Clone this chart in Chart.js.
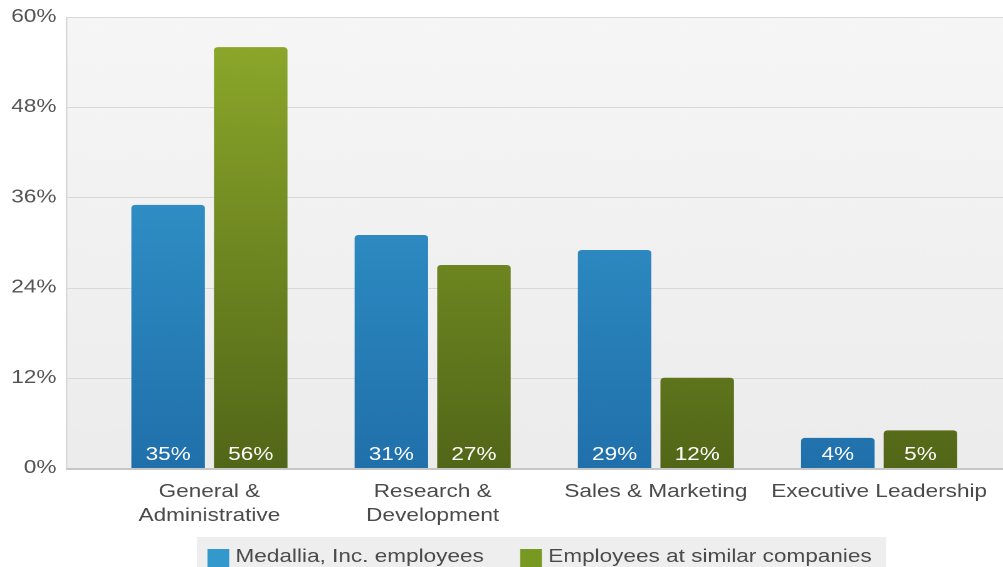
<!DOCTYPE html>
<html>
<head>
<meta charset="utf-8">
<script src="https://cdn.jsdelivr.net/npm/chart.js@4"></script>
<style>
  html, body { margin:0; padding:0; background:#fff; overflow:hidden; }
  /* the reference is a horizontally stretched screenshot: draw at 800 wide, stretch to 1003 */
  #wrap { width:800px; height:567px; position:relative; transform:scaleX(1.25375); transform-origin:0 0; }
</style>
</head>
<body>
<div id="wrap"><canvas id="chart"></canvas></div>
<script>
const categories = [["General &", "Administrative"], ["Research &", "Development"], "Sales & Marketing", "Executive Leadership"];
const medallia = [35, 31, 29, 4];
const similar  = [56, 27, 12, 5];
const seriesNames = ["Medallia, Inc. employees", "Employees at similar companies"];
const legendColors = ["#3399cc", "#779922"];

const font = "'Liberation Sans', Arial, sans-serif";
const plotLeft = 52.6;

// area gradient so bars share the same shade at a given height
function grad(top, bottom, fallback) {
  return c => {
    const area = c.chart.chartArea;
    if (!area) return fallback;
    const g = c.chart.ctx.createLinearGradient(0, area.top, 0, area.bottom);
    g.addColorStop(0, top);
    g.addColorStop(1, bottom);
    return g;
  };
}

const backdrop = {
  id: "backdrop",
  beforeDraw(chart) {
    const { ctx, scales: { y }, chartArea } = chart;
    const right = chart.width;
    ctx.save();
    const g = ctx.createLinearGradient(0, chartArea.top, 0, chartArea.bottom);
    g.addColorStop(0, "#f6f6f6");
    g.addColorStop(1, "#ececec");
    ctx.fillStyle = g;
    ctx.fillRect(plotLeft, chartArea.top, right - plotLeft, chartArea.bottom - chartArea.top);
    ctx.strokeStyle = "#d8d8d8";
    ctx.lineWidth = 1;
    y.ticks.forEach(t => {
      const py = Math.round(y.getPixelForValue(t.value)) + 0.5;
      ctx.beginPath(); ctx.moveTo(plotLeft, py); ctx.lineTo(right, py); ctx.stroke();
    });
    ctx.lineWidth = 1.3;
    ctx.beginPath(); ctx.moveTo(plotLeft + 0.5, chartArea.top); ctx.lineTo(plotLeft + 0.5, chartArea.bottom); ctx.stroke();
    ctx.restore();
  },
  afterDatasetsDraw(chart) {
    const { ctx, scales: { y } } = chart;
    ctx.save();
    const base = y.getPixelForValue(0);
    ctx.strokeStyle = "#c6c6c6";
    ctx.lineWidth = 2;
    ctx.beginPath(); ctx.moveTo(plotLeft, base + 1); ctx.lineTo(chart.width, base + 1); ctx.stroke();
    // value labels at the foot of each bar
    ctx.fillStyle = "#ffffff";
    ctx.font = "18px " + font;
    ctx.textAlign = "center";
    ctx.textBaseline = "alphabetic";
    chart.data.datasets.forEach((ds, i) => {
      chart.getDatasetMeta(i).data.forEach((bar, j) => {
        ctx.fillText(ds.data[j] + "%", bar.x, base - 8);
      });
    });
    ctx.restore();
  },
  afterDraw(chart) {
    // legend strip at the bottom
    const { ctx } = chart;
    ctx.save();
    const bgLeft = 157.1, bgRight = 706.7, bgTop = 537;
    ctx.fillStyle = "#eeeeee";
    ctx.fillRect(bgLeft, bgTop, bgRight - bgLeft, chart.height - bgTop);
    ctx.font = "18px " + font;
    const boxW = 17.3, gap = 5, itemGap = 29;
    const widths = seriesNames.map(n => ctx.measureText(n).width);
    const total = widths.reduce((a, w) => a + boxW + gap + w, 0) + itemGap;
    let x = (bgLeft + bgRight) / 2 - total / 2 - 1.5;
    seriesNames.forEach((n, i) => {
      ctx.fillStyle = legendColors[i];
      ctx.fillRect(x, 549, boxW, 18);
      ctx.fillStyle = "#4a4a4a";
      ctx.textBaseline = "alphabetic";
      ctx.fillText(n, x + boxW + gap, 562);
      x += boxW + gap + widths[i] + itemGap;
    });
    ctx.restore();
  }
};

new Chart(document.getElementById("chart"), {
  type: "bar",
  data: {
    labels: categories,
    datasets: [
      {
        label: seriesNames[0],
        data: medallia,
        backgroundColor: grad("#3aa2d6", "#2070ab", "#3399cc"),
        borderRadius: { topLeft: 3, topRight: 3 },
        borderSkipped: "bottom"
      },
      {
        label: seriesNames[1],
        data: similar,
        backgroundColor: grad("#8fab2b", "#526618", "#779922"),
        borderRadius: { topLeft: 3, topRight: 3 },
        borderSkipped: "bottom"
      }
    ]
  },
  options: {
    responsive: true,
    maintainAspectRatio: false,
    animation: false,
    devicePixelRatio: 2,
    layout: { padding: { left: 0, right: 6, top: 17, bottom: 36 } },
    datasets: { bar: { categoryPercentage: 0.74, barPercentage: 0.89 } },
    scales: {
      x: {
        grid: { display: false, drawTicks: false },
        border: { display: false },
        ticks: { color: "#4a4a4a", font: { family: font, size: 18, lineHeight: 1.333 }, padding: 12, maxRotation: 0, autoSkip: false },
        afterFit: s => { s.height = 63; }
      },
      y: {
        min: 0, max: 60,
        grid: { display: false, drawTicks: false },
        border: { display: false },
        ticks: {
          stepSize: 12,
          color: "#555",
          padding: 33,
          font: { family: font, size: 18 },
          callback: v => v + "%"
        },
        afterFit: s => { s.width = 78; s.paddingTop = 0; s.paddingBottom = 0; }
      }
    },
    plugins: {
      tooltip: { enabled: false },
      legend: { display: false }
    }
  },
  plugins: [backdrop]
});
</script>
</body>
</html>
